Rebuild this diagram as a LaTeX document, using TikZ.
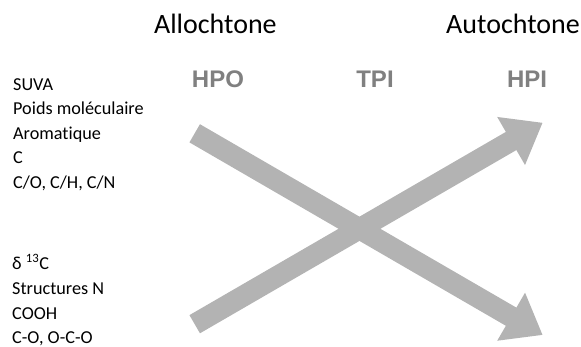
\documentclass[tikz,border=0pt]{standalone}
\usepackage{fontspec}
\setmainfont{Carlito}[Ligatures=NoCommon]
\newfontfamily\labfont{Liberation Sans}
\usetikzlibrary{arrows.meta}
\definecolor{arrgray}{RGB}{179,179,179}
\definecolor{labgray}{RGB}{128,128,128}
\tikzset{
  bigarrow/.style={draw=arrgray, line width=21pt, line cap=butt,
    -{Triangle[length=36.5pt,width=53pt]}},
  origin/.style={font=\fontsize{28}{32}\selectfont, anchor=base, inner sep=0pt},
  fraction/.style={font=\labfont\bfseries\fontsize{24}{28}\selectfont, text=labgray, anchor=base, inner sep=0pt},
  prop/.style={font=\fontsize{18.2}{22}\selectfont, anchor=base west, inner sep=0pt}
}
\begin{document}
\begin{tikzpicture}[x=1pt,y=1pt]
\useasboundingbox (0,0) rectangle (581,346);
% headings
\node[origin] (allo) at (215.4,312) {Allochtone};
\node[origin] (auto) at (513,312) {Autochtone};
% fractions
\node[fraction] (hpo) at (218,258) {HPO};
\node[fraction] (tpi) at (375,258) {TPI};
\node[fraction] (hpi) at (527,258) {HPI};
% upper properties
\node[prop] (p1) at (13,255.5) {SUVA};
\node[prop] (p2) at (13,231.1) {Poids moléculaire};
\node[prop] (p3) at (13,206.7) {Aromatique};
\node[prop] (p4) at (13,182.3) {C};
\node[prop] (p5) at (13,157.9) {C/O, C/H, C/N};
% lower properties
\node[prop] (q1) at (12,77) {δ \textsuperscript{13}C};
\node[prop] (q2) at (12,52) {Structures N};
\node[prop] (q3) at (12,27) {COOH};
\node[prop] (q4) at (12,2.5) {C-O, O-C-O};
% arrows
\coordinate (t1) at (194.7,212.7);
\coordinate (h1) at (542.7,11);
\coordinate (t2) at (194.7,21.8);
\coordinate (h2) at (542.7,223.3);
\draw[bigarrow] (t1) -- (h1);
\draw[bigarrow] (t2) -- (h2);
\end{tikzpicture}
\end{document}
